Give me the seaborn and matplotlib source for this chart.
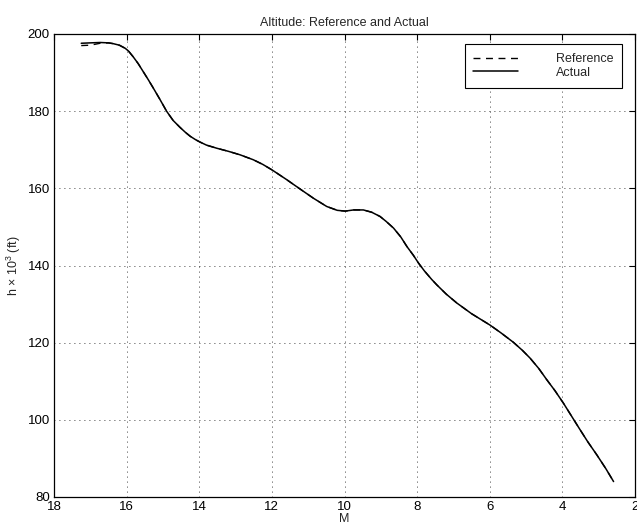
import matplotlib
matplotlib.use("Agg")
import matplotlib.pyplot as plt
import seaborn as sns
import pandas as pd

# Data
M_act = [17.25, 17.0, 16.73, 16.5, 16.37, 16.2, 16.04, 15.95, 15.82, 15.68, 15.54,
         15.4, 15.26, 15.08, 14.90, 14.72, 14.53, 14.38, 14.25, 14.1, 13.98,
         13.8, 13.52, 13.2, 12.88, 12.51, 12.25, 12.0, 11.6, 11.22, 10.85,
         10.49, 10.2, 9.98, 9.75, 9.48, 9.25, 9.02, 8.85, 8.65, 8.45, 8.28,
         8.1, 7.96, 7.8, 7.6, 7.46, 7.2, 6.91, 6.5, 6.0, 5.7, 5.35, 5.1, 4.89,
         4.65, 4.43, 4.2, 3.97, 3.75, 3.51, 3.3, 3.05, 2.8, 2.59]
h_act = [197.6, 197.7, 197.8, 197.7, 197.5, 197.1, 196.3, 195.6, 194.1, 192.3, 190.2,
         188.1, 185.9, 183.0, 180.0, 177.6, 175.8, 174.5, 173.5, 172.6, 172.0,
         171.2, 170.4, 169.6, 168.7, 167.4, 166.2, 164.8, 162.3, 159.8, 157.4,
         155.3, 154.3, 154.1, 154.4, 154.4, 153.8, 152.7, 151.4, 149.7, 147.4, 144.9,
         142.6, 140.6, 138.6, 136.4, 135.0, 132.6, 130.3, 127.5, 124.6, 122.6, 120.1, 118.0, 116.0,
         113.3, 110.4, 107.5, 104.3, 101.0, 97.4, 94.3, 90.9, 87.3, 84.0]
M_ref = [17.25, 17.0, 16.73, 16.5, 16.37, 16.2, 16.04, 15.95, 15.82, 15.68, 15.54,
         15.4, 15.26, 15.08, 14.90, 14.72, 14.53, 14.38, 14.25, 14.1, 13.98,
         13.8, 13.52, 13.2, 12.88, 12.51, 12.25, 12.0, 11.6, 11.22, 10.85,
         10.49, 10.2, 9.98, 9.75, 9.48, 9.25, 9.02, 8.85, 8.65, 8.45, 8.28,
         8.1, 7.96, 7.8, 7.6, 7.46, 7.2, 6.91, 6.5, 6.0, 5.7, 5.35, 5.1, 4.89,
         4.65, 4.43, 4.2, 3.97, 3.75, 3.51, 3.3, 3.05, 2.8, 2.59]
h_ref = [197.0, 197.1, 197.6, 197.7, 197.5, 197.1, 196.3, 195.6, 194.1, 192.3, 190.2,
         188.1, 185.9, 183.0, 180.0, 177.6, 175.8, 174.5, 173.5, 172.6, 172.0,
         171.2, 170.4, 169.6, 168.7, 167.4, 166.2, 164.8, 162.3, 159.8, 157.4,
         155.3, 154.3, 154.1, 154.4, 154.4, 153.8, 152.7, 151.4, 149.7, 147.4, 144.9,
         142.6, 140.6, 138.6, 136.4, 135.0, 132.6, 130.3, 127.5, 124.6, 122.6, 120.1, 118.0, 116.0,
         113.3, 110.4, 107.5, 104.3, 101.0, 97.4, 94.3, 90.9, 87.3, 84.0]
x_ticks = [18, 16, 14, 12, 10, 8, 6, 4, 2]
y_ticks = [80, 100, 120, 140, 160, 180, 200]

sns.set_style("white")
plt.rcParams['font.family'] = ['Liberation Sans', 'DejaVu Sans']
plt.rcParams['mathtext.default'] = 'regular'

fig = plt.figure(figsize=(6.37, 5.29), dpi=100)
ax = fig.add_axes([54/637, 1-497/529, 581/637, 463/529])

df_ref = pd.DataFrame({"M": M_ref, "h": h_ref})
df_act = pd.DataFrame({"M": M_act, "h": h_act})
sns.lineplot(data=df_ref, x="M", y="h", ax=ax, sort=False, estimator=None,
             color="black", lw=1.0, linestyle=(0, (5, 4)), label="Reference")
sns.lineplot(data=df_act, x="M", y="h", ax=ax, sort=False, estimator=None,
             color="black", lw=1.1, label="Actual")

ax.set_xlim(18, 2)
ax.set_ylim(80, 200)
ax.set_xticks(x_ticks)
ax.set_yticks(y_ticks)
ax.tick_params(direction="in", length=4, width=0.8, top=True, right=True,
               labelsize=9.5, pad=3, colors="black")
for s in ax.spines.values():
    s.set_color("black")
    s.set_linewidth(0.9)
ax.grid(True, color="black", linestyle=(0, (1, 5)), linewidth=0.6)

ax.set_title("Altitude: Reference and Actual", fontsize=9, pad=6)
ax.set_xlabel("M", fontsize=9, labelpad=0)
ax.set_ylabel(r"h × 10$^{3}$ (ft)", fontsize=9, labelpad=3)

leg = ax.legend(loc="upper right", bbox_to_anchor=(0.978, 0.978), borderaxespad=0,
                fancybox=False, edgecolor="black", framealpha=1, fontsize=9,
                handlelength=3.6, handletextpad=3.0, borderpad=0.7,
                labelspacing=0.15)
leg.get_frame().set_linewidth(0.8)

fig.savefig("out.png", dpi=100)
